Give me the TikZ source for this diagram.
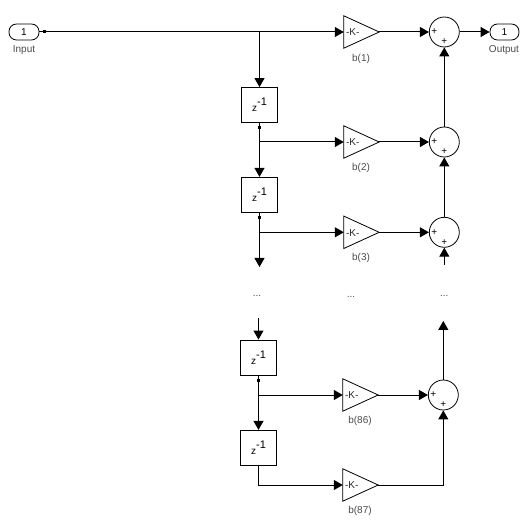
\documentclass[tikz,border=0pt]{standalone}
\usepackage{fontspec}
\setmainfont{Liberation Sans}
\usetikzlibrary{arrows.meta}
\tikzset{
  x=1pt,y=-1pt,
  wire/.style={line width=1pt,black},
  arr/.style={wire,-{Triangle[length=9pt,width=10pt]}},
  port/.style={draw,line width=0.8pt,rounded corners=7.5pt,minimum width=30pt,minimum height=16pt,inner sep=0pt,font=\fontsize{10}{11}\selectfont},
  delaybox/.style={draw,line width=0.9pt,minimum width=36.5pt,minimum height=35pt,inner sep=0pt,font=\fontsize{10}{11}\selectfont},
  gainbox/.style={minimum width=35pt,minimum height=32pt,inner sep=0pt},
  gaintxt/.style={font=\fontsize{10}{11}\selectfont,inner sep=0pt,text=black!85},
  sumc/.style={draw,circle,line width=0.8pt,minimum size=30pt,inner sep=0pt},
  plus/.style={font=\fontsize{10}{10}\selectfont,inner sep=0pt},
  lab/.style={font=\fontsize{10}{11}\selectfont,inner sep=0pt,text=black!70},
  dotsn/.style={font=\fontsize{10}{11}\selectfont,inner sep=0pt,text=black!70},
  tap/.style={fill=black,draw=none,minimum size=3pt,inner sep=0pt}
}
\newcommand{\zinv}{\raisebox{-4pt}{z}\raisebox{2pt}{\fontsize{11}{11}\selectfont -1}}
\newcommand{\gainshape}[1]{\draw[line width=0.8pt] (#1.north west) -- (#1.east) -- (#1.south west) -- cycle;
  \node[gaintxt,anchor=west,yshift=-0.5pt] at ([xshift=2pt]#1.west) {-K-};}
\begin{document}
\begin{tikzpicture}
\useasboundingbox[fill=white] (0,0) rectangle (527,526);
% ports
\node[port] (in) at (24,32) {1};
\node[lab] (inl) at (24,50) {Input};
\node[port,minimum width=29pt] (out) at (504.5,32) {1};
\node[lab] (outl) at (504,50) {Output};
\node[tap] (intap) at (44.5,32) {};
% delays
\node[delaybox] (d1) at (259.5,105) {\zinv};
\node[delaybox] (d2) at (259.5,194.8) {\zinv};
\node[delaybox] (d3) at (258.5,357.5) {\zinv};
\node[delaybox] (d4) at (258.5,447.8) {\zinv};
% gains
\node[gainbox] (g1) at (361.5,32) {};
\node[gainbox] (g2) at (361.5,142) {};
\node[gainbox] (g3) at (361.5,232.3) {};
\node[gainbox] (g4) at (360.5,395) {};
\node[gainbox] (g5) at (360.5,485) {};
\gainshape{g1}\gainshape{g2}\gainshape{g3}\gainshape{g4}\gainshape{g5}
\node[lab] (l1) at (361,58.5) {b(1)};
\node[lab] (l2) at (361,168) {b(2)};
\node[lab] (l3) at (361,258) {b(3)};
\node[lab] (l4) at (360,421) {b(86)};
\node[lab] (l5) at (360,511) {b(87)};
% sums
\node[sumc] (s1) at (444.3,32) {};
\node[sumc] (s2) at (444.3,142) {};
\node[sumc] (s3) at (444.3,232.3) {};
\node[sumc] (s4) at (443.3,395) {};
\foreach \s in {s1,s2,s3,s4}{
  \node[plus] at ([xshift=-10pt]\s.center) {+};
  \node[plus] at ([yshift=-10pt]\s.center) {+};
}
% ellipsis
\node[dotsn] (e1) at (257,295.5) {...};
\node[dotsn] (e2) at (351,296.5) {...};
\node[dotsn] (e3) at (444.3,295.5) {...};
% junctions and free ends
\coordinate (j0) at (d1.north |- in);
\coordinate (j2) at (d1.south |- g2.west);
\coordinate (j3) at (d2.south |- g3.west);
\coordinate (j4) at (d3.south |- g4.west);
\coordinate (j5) at (d4.south |- g5.west);
\coordinate (c5) at (s4.south |- g5.east);
\node[tap] (t1) at ([yshift=-5pt]d1.south) {};
\node[tap] (t2) at ([yshift=-5pt]d2.south) {};
\node[tap] (t3) at ([yshift=-5pt]d3.south) {};
\coordinate (fa) at (259.5,267);
\coordinate (fb) at (444.3,265);
\coordinate (fc) at (258.5,318);
\coordinate (fd) at (443.3,321);
% connectors
\draw[wire] (in.east) -- (intap.center);
\draw[arr] (intap.center) -- (g1.west);
\draw[arr] (j0) -- (d1.north);
\draw[arr] (g1.east) -- (s1.west);
\draw[arr] (s1.east) -- (out.west);
\draw[arr] (d1.south) -- (d2.north);
\draw[arr] (j2) -- (g2.west);
\draw[arr] (g2.east) -- (s2.west);
\draw[arr] (s2.north) -- (s1.south);
\draw[arr] (d2.south) -- (fa);
\draw[arr] (j3) -- (g3.west);
\draw[arr] (g3.east) -- (s3.west);
\draw[arr] (s3.north) -- (s2.south);
\draw[arr] (fb) -- (s3.south);
\draw[arr] (fc) -- (d3.north);
\draw[arr] (s4.north) -- (fd);
\draw[arr] (d3.south) -- (d4.north);
\draw[arr] (j4) -- (g4.west);
\draw[arr] (g4.east) -- (s4.west);
\draw[arr] (d4.south) -- (j5) -- (g5.west);
\draw[arr] (g5.east) -- (c5) -- (s4.south);
\end{tikzpicture}
\end{document}
